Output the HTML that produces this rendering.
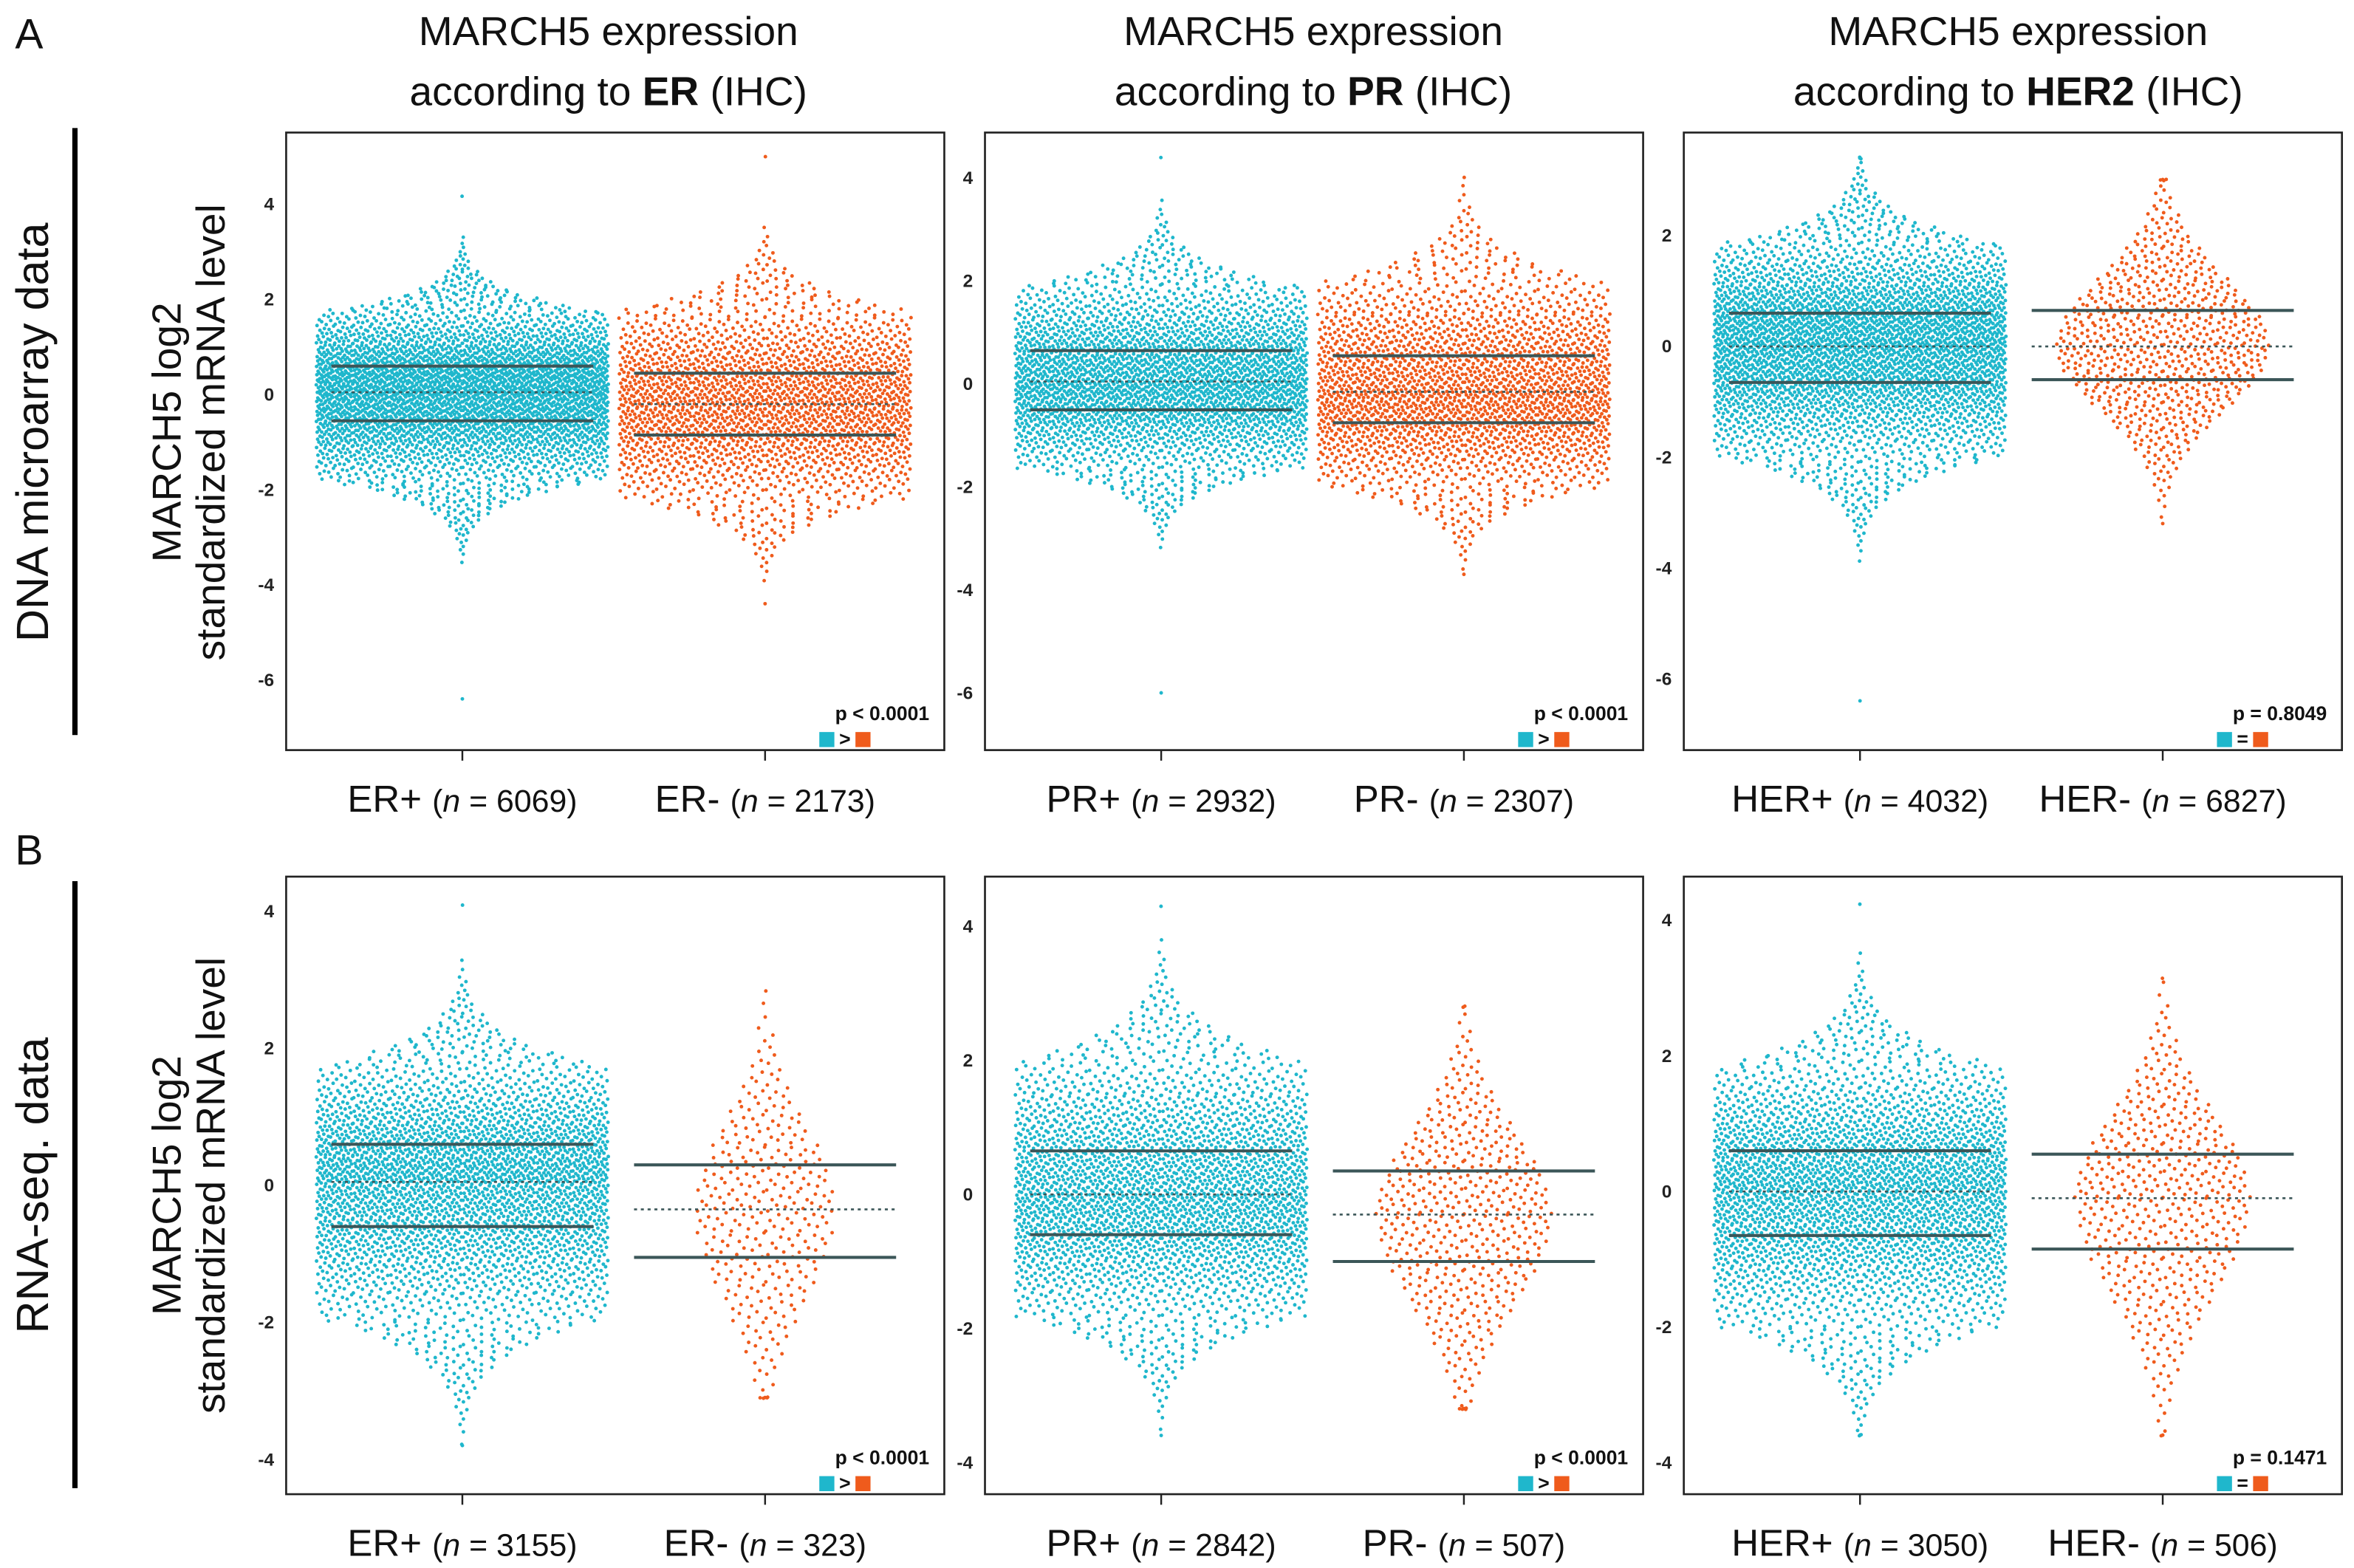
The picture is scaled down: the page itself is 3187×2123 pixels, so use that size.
<!DOCTYPE html>
<html><head><meta charset="utf-8">
<style>
html,body{margin:0;padding:0;background:#fff;}
svg{display:block;}
text{font-family:"Liberation Sans",sans-serif;}
</style></head>
<body>
<svg id="fig" width="3187" height="2123" viewBox="0 0 1563 1041" preserveAspectRatio="none" xmlns="http://www.w3.org/2000/svg">
<rect x="0" y="0" width="1563" height="1041" fill="#fff"/>
<g id="static" fill="#111">
<text x="10" y="32" font-size="28">A</text>
<text x="10" y="574" font-size="28">B</text>
<rect x="48" y="85" width="3.5" height="403" fill="#000"/>
<rect x="48" y="585" width="3.5" height="403" fill="#000"/>
<text transform="translate(32,287) rotate(-90)" text-anchor="middle" font-size="30">DNA microarray data</text>
<text transform="translate(32,787) rotate(-90)" text-anchor="middle" font-size="30">RNA-seq. data</text>
<text transform="translate(120,287) rotate(-90)" text-anchor="middle" font-size="27">MARCH5 log2</text>
<text transform="translate(149,287) rotate(-90)" text-anchor="middle" font-size="27">standardized mRNA level</text>
<text transform="translate(120,787) rotate(-90)" text-anchor="middle" font-size="27">MARCH5 log2</text>
<text transform="translate(149,787) rotate(-90)" text-anchor="middle" font-size="27">standardized mRNA level</text>
<text x="404" y="30" text-anchor="middle" font-size="27">MARCH5 expression</text>
<text x="404" y="70" text-anchor="middle" font-size="27">according to <tspan font-weight="bold">ER</tspan> (IHC)</text>
<text x="872" y="30" text-anchor="middle" font-size="27">MARCH5 expression</text>
<text x="872" y="70" text-anchor="middle" font-size="27">according to <tspan font-weight="bold">PR</tspan> (IHC)</text>
<text x="1340" y="30" text-anchor="middle" font-size="27">MARCH5 expression</text>
<text x="1340" y="70" text-anchor="middle" font-size="27">according to <tspan font-weight="bold">HER2</tspan> (IHC)</text>
</g>
<g id="panels"></g>
</svg>
<script>
// ---- data (summary statistics) ----
const panelIds = ["a-er","a-pr","a-her2","b-er","b-pr","b-her2"];
const groupLabels = [["ER+","ER-"],["PR+","PR-"],["HER+","HER-"],["ER+","ER-"],["PR+","PR-"],["HER+","HER-"]];
const groupN = [[6069,2173],[2932,2307],[4032,6827],[3155,323],[2842,507],[3050,506]];
const groupDrawn = [[3600,2173],[2932,2307],[3600,750],[3155,323],[2842,507],[3050,506]];
const groupQ3 = [[0.6,0.45],[0.65,0.55],[0.6,0.65],[0.6,0.3],[0.65,0.35],[0.6,0.55]];
const groupMedian = [[0.05,-0.2],[0.05,-0.15],[0.0,0.0],[0.05,-0.35],[0.0,-0.3],[0.0,-0.1]];
const groupQ1 = [[-0.55,-0.85],[-0.5,-0.75],[-0.65,-0.6],[-0.6,-1.05],[-0.6,-1.0],[-0.65,-0.85]];
const groupMin = [[-6.4,-4.4],[-6.0,-3.7],[-6.4,-3.2],[-3.8,-3.1],[-3.6,-3.2],[-3.6,-3.6]];
const groupMax = [[4.15,5.0],[4.4,4.0],[3.4,3.0],[4.1,2.85],[4.3,2.8],[4.25,3.15]];
const pLabels = ["p < 0.0001","p < 0.0001","p = 0.8049","p < 0.0001","p < 0.0001","p = 0.1471"];
const pSymbols = [">",">","=",">",">","="];
const yTicks = [[4,2,0,-2,-4,-6],[4,2,0,-2,-4,-6],[2,0,-2,-4,-6],[4,2,0,-2,-4],[4,2,0,-2,-4],[4,2,0,-2,-4]];

// ---- layout ----
const boxLeft=[190,654,1118,190,654,1118];
const boxTop=[88,88,88,582,582,582];
const boxW=437, boxH=410;
const yZero=[262,255,230,787,793,791];
const yUnit=[31.6,34.2,36.8,45.5,44.5,45.0];
const COLORS=["#1fb7cc","#ef5b1c"];
const NS="http://www.w3.org/2000/svg";
const root=document.getElementById("panels");
function mk(tag,attrs,parent){const e=document.createElementNS(NS,tag);for(const k in attrs)e.setAttribute(k,attrs[k]);parent.appendChild(e);return e;}
function invNorm(p){
  const a=[-39.6968302866538,220.946098424521,-275.928510446969,138.357751867269,-30.6647980661472,2.50662827745924];
  const b=[-54.4760987982241,161.585836858041,-155.698979859887,66.8013118877197,-13.2806815528857];
  const c=[-0.00778489400243029,-0.322396458041136,-2.40075827716184,-2.54973253934373,4.37466414146497,2.93816398269878];
  const d=[0.00778469570904146,0.32246712907004,2.445134137143,3.75440866190742];
  let q,r;
  if(p<0.02425){q=Math.sqrt(-2*Math.log(p));return(((((c[0]*q+c[1])*q+c[2])*q+c[3])*q+c[4])*q+c[5])/((((d[0]*q+d[1])*q+d[2])*q+d[3])*q+1);}
  if(p>1-0.02425){q=Math.sqrt(-2*Math.log(1-p));return-(((((c[0]*q+c[1])*q+c[2])*q+c[3])*q+c[4])*q+c[5])/((((d[0]*q+d[1])*q+d[2])*q+d[3])*q+1);}
  q=p-0.5;r=q*q;return(((((a[0]*r+a[1])*r+a[2])*r+a[3])*r+a[4])*r+a[5])*q/(((((b[0]*r+b[1])*r+b[2])*r+b[3])*r+b[4])*r+1);
}
function vdc(i,b){let f=1,r=0;while(i>0){f/=b;r+=f*(i%b);i=Math.floor(i/b);}return r;}

panelIds.forEach((pid,pi)=>{
  const L=boxLeft[pi],T=boxTop[pi];
  const yS=v=>yZero[pi]-v*yUnit[pi];
  const xC=g=>L+117+g*201;
  const g0=mk("g",{},root);
  
  
  yTicks[pi].forEach(t=>{
    const tx=mk("text",{x:L-8,y:yS(t)+4,"text-anchor":"end","font-size":"12","font-weight":"bold",fill:"#222"},g0);
    tx.textContent=String(t);
    
    
  });
  for(let g=0;g<2;g++){
    const gg=mk("g",{fill:COLORS[g]},g0);
    
    
    const n=groupN[pi][g], cnt=groupDrawn[pi][g];
    const med=groupMedian[pi][g], su=(groupQ3[pi][g]-med)/0.674, sd=(med-groupQ1[pi][g])/0.674;
    const mn=groupMin[pi][g], mx=groupMax[pi][g];
    const small=cnt<1000;
    const maxHW=small?Math.min(95,2.6*Math.sqrt(cnt)):Math.min(97,2.8*Math.sqrt(cnt));
    const cx=xC(g);
    let html="";
    for(let i=0;i<cnt;i++){
      const p=(i+0.5)/cnt;
      const z=invNorm(p);
      const zz=z*1.2;
      let v=med+(z>0?su:sd)*zz;
      if(i===0)v=mn; if(i===cnt-1)v=mx;
      v=Math.max(mn,Math.min(mx,v));
      const hw=small?maxHW*Math.exp(-(zz*zz)/3.2):maxHW*Math.min(1,Math.exp(-(zz*zz-4.2)/2.4));
      const fx=vdc(i+1,2)*2-1;
      const x=cx+hw*fx, y=yS(v)+(vdc(i+1,3)-0.5)*1.2;
      html+='<circle cx="'+x.toFixed(1)+'" cy="'+y.toFixed(1)+'" r="1.2"/>';
    }
    gg.innerHTML=html;
    const lw=87;
    [["q3",groupQ3[pi][g],""],["median",groupMedian[pi][g],"2,2.5"],["q1",groupQ1[pi][g],""]].forEach(([nm,val,da])=>{
      const ln=mk("line",{x1:cx-lw,x2:cx+lw,y1:yS(val),y2:yS(val),stroke:"#3b5658","stroke-width":nm==="median"?1.3:2,"stroke-dasharray":da},g0);
      
      
    });
    const tk=mk("line",{x1:cx,x2:cx,y1:T+boxH,y2:T+boxH+7,stroke:"#222","stroke-width":1.2},g0);
    
    
    const lb=mk("text",{x:cx,y:T+boxH+41,"text-anchor":"middle","font-size":"25",fill:"#111"},g0);
    lb.innerHTML=groupLabels[pi][g]+' <tspan font-size="21">(<tspan font-style="italic">n</tspan> = '+n+')</tspan>';
    
    
  }
  const bx=mk("rect",{x:L,y:T,width:boxW,height:boxH,fill:"none",stroke:"#222","stroke-width":1.3},g0);
  
  
  const pt=mk("text",{x:L+boxW-10,y:T+boxH-20,"text-anchor":"end","font-size":"13","font-weight":"bold",fill:"#111"},g0);
  pt.textContent=pLabels[pi];
  
  
  const s1=mk("rect",{x:L+boxW-83,y:T+boxH-12,width:10,height:10,fill:COLORS[0]},g0);
  
  
  const sy=mk("text",{x:L+boxW-66,y:T+boxH-3,"text-anchor":"middle","font-size":"13","font-weight":"bold",fill:"#111"},g0);
  sy.textContent=pSymbols[pi];
  
  
  const s2=mk("rect",{x:L+boxW-59,y:T+boxH-12,width:10,height:10,fill:COLORS[1]},g0);
  
  
});
</script>
</body></html>
